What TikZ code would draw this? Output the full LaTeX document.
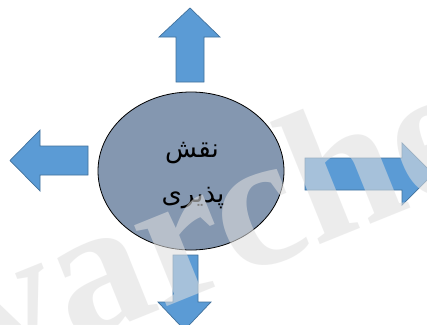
\documentclass[tikz,border=0pt]{standalone}
\usepackage{fontspec}
\usetikzlibrary{shapes.geometric}
\TeXXeTstate=1
\newfontfamily\arabicfont[Script=Arabic]{DejaVu Sans}
\newfontfamily\wmfont{Liberation Serif}
\definecolor{arrowblue}{HTML}{5B9BD5}
\definecolor{arrowedge}{HTML}{41719C}
\definecolor{corefill}{HTML}{8497B0}
\definecolor{wmgray}{HTML}{DFDFDF}
\begin{document}
\begin{tikzpicture}[x=1pt,y=-1pt,
  blockarrow/.style={fill=arrowblue, draw=arrowedge, line width=0.7pt, line join=miter},
  corestyle/.style={ellipse, fill=corefill, draw=black, line width=0.8pt, minimum width=186pt, minimum height=158pt, inner sep=0pt},
  label/.style={font=\arabicfont\fontsize{26}{30}\selectfont, text=black, inner sep=0pt},
  watermark/.style={font=\wmfont\bfseries\fontsize{190}{190}\selectfont, text=wmgray, opacity=0.57, inner sep=0pt}]
\useasboundingbox (0,0) rectangle (427,324);
\fill[white] (0,0) rectangle (427,324);
% up arrow
\draw[blockarrow] (176,82) -- (176,37) -- (159,37) -- (190,8) -- (220,37) -- (204,37) -- (204,82) -- cycle;
% left arrow
\draw[blockarrow] (88,146) -- (40,146) -- (40,130) -- (10,160.5) -- (40,191) -- (40,175) -- (88,175) -- cycle;
% right arrow
\draw[blockarrow] (305,158) -- (402,158) -- (402,143) -- (433,174) -- (402,205) -- (402,190) -- (305,190) -- cycle;
% down arrow
\draw[blockarrow] (173,255) -- (198,255) -- (198,302) -- (211,302) -- (184.5,330) -- (158,302) -- (173,302) -- cycle;
% central ellipse
\node[corestyle] (core) at (191,171) {};
\node[label] (t1) at (192,153) {\beginR نقش\endR};
\node[label] (t2) at (193,198) {\beginR پذیری\endR};
% watermark
\node[watermark, rotate=22, anchor=base west] (wm) at (-14,380) {varcheh};
\end{tikzpicture}
\end{document}
